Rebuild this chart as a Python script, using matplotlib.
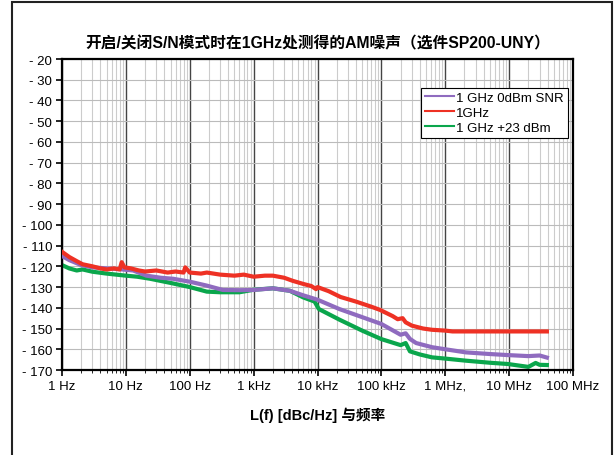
import matplotlib

matplotlib.use("Agg")
from matplotlib import pyplot as plt
from matplotlib.patches import Rectangle

plt.rcParams['font.family'] = ['Liberation Sans', 'Noto Sans CJK SC', 'DejaVu Sans']

# 1 GHz 0dBm SNR (purple)
f_snr = [1, 1.3, 2, 3, 5, 8, 13, 21, 35, 55, 100, 185, 330, 600, 1000, 2000,
         3700, 6000, 10000, 22000, 50000, 100000, 200000, 240000, 280000,
         350000, 620000, 1e6, 2.1e6, 5e6, 9.5e6, 2e7, 3e7, 3.9e7]
snr = [-115, -117, -119.4, -120.5, -121, -121.4, -122, -124.5, -125.5, -126,
       -127.4, -129.3, -131.4, -131.5, -131.4, -130.6, -131.8, -134, -136.1,
       -140.6, -144.5, -147.8, -153, -152.3, -155, -157, -159, -160, -161.5,
       -162.3, -162.8, -163.3, -163, -164]

# 1GHz (red)
f_1g = [1, 1.3, 1.7, 2.1, 3, 4, 5, 6.5, 8, 8.6, 9.5, 12, 16, 20, 30, 45, 60,
        80, 85, 100, 150, 185, 300, 500, 700, 1000, 1500, 2000, 3000, 4100,
        6000, 8000, 9500, 10000, 15000, 23000, 40000, 70000, 95000, 150000,
        180000, 215000, 240000, 300000, 450000, 620000, 1e6, 1.3e6, 3e6, 1e7,
        3.9e7]
g1 = [-113, -115.5, -117.5, -119, -120, -121, -121.5, -121, -121.5, -118,
      -120.5, -121, -122, -122.5, -122, -123, -122.5, -123, -120.5, -123,
      -123.5, -123, -124, -124.5, -124, -125, -124.5, -124.5, -125.5, -127,
      -128.5, -129.5, -131, -130, -132, -134.8, -137, -139.5, -141, -144,
      -145.5, -145, -147, -148.6, -150, -150.6, -151, -151.4, -151.4, -151.4,
      -151.4]

# 1 GHz +23 dBm (green)
f_23 = [1, 1.3, 1.7, 2.1, 3, 5, 10, 15, 24, 50, 100, 185, 300, 600, 1000,
        2000, 3700, 6000, 9000, 10500, 22000, 50000, 100000, 200000, 240000,
        280000, 400000, 620000, 1e6, 2.1e6, 5e6, 9.5e6, 2e7, 2.6e7, 3e7, 3.9e7]
g23 = [-119.4, -121, -122, -121.5, -122.6, -123.5, -124.5, -125, -126, -128,
       -130, -132.2, -132.5, -132.5, -131.3, -130.6, -131.8, -135, -137,
       -140.6, -145.7, -151, -155.1, -158, -157, -161, -162.5, -163.9, -164.5,
       -165.5, -166.5, -167.1, -168.5, -166.6, -167.5, -167.6]

x_ticks = [1, 10, 100, 1e3, 1e4, 1e5, 1e6, 1e7, 1e8]
x_labels = ['1 Hz', '10 Hz', '100 Hz', '1 kHz', '10 kHz', '100 kHz',
            '1 MHz,', '10 MHz', '100 MHz']
y_ticks = list(range(-170, -10, 10))

fig = plt.figure(figsize=(6.16, 4.56), dpi=100)
ax = fig.add_axes([62 / 616, 1 - 371 / 456, 511 / 616, 311 / 456])

# outer frame around the whole chart
fig.patches.append(Rectangle((12 / 616, -0.05), 600 / 616, 1.05 - 3 / 456,
                             transform=fig.transFigure, fill=False,
                             edgecolor='#222222', linewidth=1.5))

ax.semilogx(f_snr, snr, color='#8f6bbf', lw=3, label='1 GHz 0dBm SNR', zorder=3)
ax.semilogx(f_1g, g1, color='#ee3124', lw=3, label='1GHz', zorder=4)
ax.semilogx(f_23, g23, color='#0aa64c', lw=3, label='1 GHz +23 dBm', zorder=2)

ax.set_xlim(1, 1e8)
ax.set_ylim(-170, -20)
ax.set_xticks(x_ticks)
ax.set_xticklabels(x_labels, fontsize=9.5)
ax.set_yticks(y_ticks)
ax.set_yticklabels(['- %d' % abs(v) for v in y_ticks], fontsize=9.5)

ax.grid(True, which='minor', axis='x', color='#cccccc', lw=0.8)
ax.grid(True, which='major', axis='x', color='#444444', lw=1.0)
ax.grid(True, which='major', axis='y', color='#bbbbbb', lw=0.8)
ax.tick_params(which='major', direction='out', length=4, width=1.2, pad=3)
ax.tick_params(which='minor', direction='out', length=2, width=0.6)
for s in ax.spines.values():
    s.set_linewidth(1.6)

ax.set_title('开启/关闭S/N模式时在1GHz处测得的AM噪声（选件SP200-UNY）',
             fontsize=11.3, fontweight='bold', pad=8)
ax.set_xlabel('L(f) [dBc/Hz] 与频率', fontsize=10.5, fontweight='bold',
              labelpad=11)

leg = ax.legend(loc='upper right', bbox_to_anchor=(0.99, 0.907),
                borderaxespad=0, fancybox=False, edgecolor='black',
                framealpha=1, fontsize=9.5, handlelength=2.2,
                handletextpad=0.15, labelspacing=0.2, borderpad=0.3)
leg.get_frame().set_linewidth(0.8)
for h in leg.legend_handles:
    h.set_linewidth(1.5)

plt.savefig('out.png', dpi=100)
plt.close()
